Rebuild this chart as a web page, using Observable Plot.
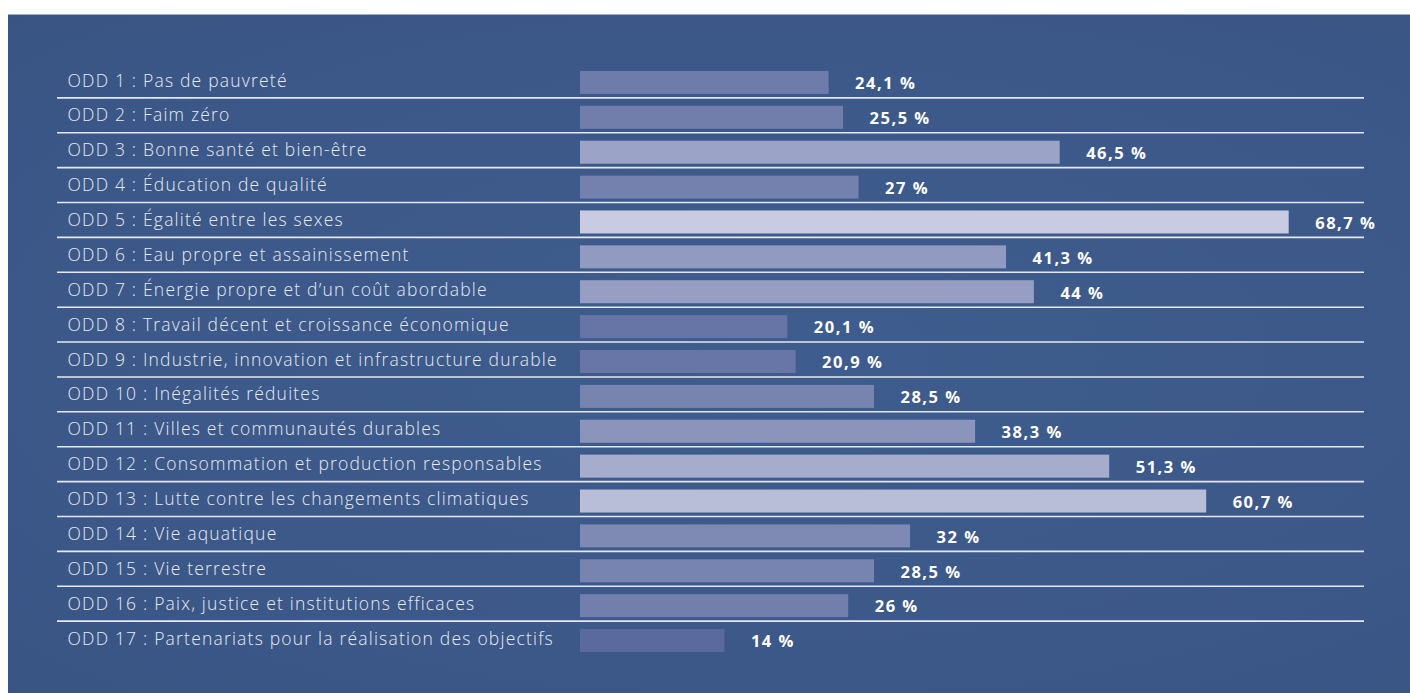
<!DOCTYPE html>
<html>
<head>
<meta charset="utf-8">
<script src="https://cdn.jsdelivr.net/npm/d3@7"></script>
<script src="https://cdn.jsdelivr.net/npm/@observablehq/plot@0.6"></script>
<style>
  html, body { margin: 0; padding: 0; background: #ffffff; }
  #wrap { position: relative; width: 1410px; height: 693px; overflow: hidden; }
  #panel { position: absolute; left: 8px; top: 14px; right: 0; bottom: 0;
    background: radial-gradient(ellipse at 55% 50%, #3e5c8d 0%, #3b5888 70%, #385483 100%);
    border-top: 1px solid #9fb0cc; }
  #chart { position: absolute; left: 0; top: 0; }
</style>
</head>
<body>
<div id="wrap"><div id="panel"></div><div id="chart"></div></div>
<script>
const categories = [
  "ODD 1 : Pas de pauvreté",
  "ODD 2 : Faim zéro",
  "ODD 3 : Bonne santé et bien-être",
  "ODD 4 : Éducation de qualité",
  "ODD 5 : Égalité entre les sexes",
  "ODD 6 : Eau propre et assainissement",
  "ODD 7 : Énergie propre et d’un coût abordable",
  "ODD 8 : Travail décent et croissance économique",
  "ODD 9 : Industrie, innovation et infrastructure durable",
  "ODD 10 : Inégalités réduites",
  "ODD 11 : Villes et communautés durables",
  "ODD 12 : Consommation et production responsables",
  "ODD 13 : Lutte contre les changements climatiques",
  "ODD 14 : Vie aquatique",
  "ODD 15 : Vie terrestre",
  "ODD 16 : Paix, justice et institutions efficaces",
  "ODD 17 : Partenariats pour la réalisation des objectifs"
];
const values = [24.1, 25.5, 46.5, 27, 68.7, 41.3, 44, 20.1, 20.9, 28.5, 38.3, 51.3, 60.7, 32, 28.5, 26, 14];

const data = categories.map((c, i) => ({category: c, value: values[i]}));
const fmt = v => String(v).replace(".", ",") + " %";

const W = 1410, H = 693;
const marginTop = 65, marginBottom = 35;
const step = (H - marginTop - marginBottom) / categories.length;

const chart = Plot.plot({
  width: W,
  height: H,
  marginLeft: 57,
  marginRight: 46,
  marginTop,
  marginBottom,
  style: {background: "transparent", overflow: "visible"},
  x: {domain: [0, 76], range: [580, 1364], axis: null},
  y: {domain: categories, paddingInner: 0.34, paddingOuter: 0.17, round: false},
  color: {type: "linear", domain: [14, 68.7], range: ["#5a6a9e", "#c8cbe2"]},
  marks: [
    Plot.ruleY(categories.slice(1), {stroke: "#e4e8f2", strokeWidth: 1.6, dy: -step / 2 - 2.5}),
    Plot.barX(data, {y: "category", x: "value", fill: "value"}),
    Plot.text(data, {
      y: "category", x: "value", text: d => fmt(d.value),
      textAnchor: "start", dx: 26, dy: 1, fill: "#ffffff",
      fontFamily: "Open Sans", fontWeight: 700, fontSize: 16.5
    }),
    Plot.axisY({
      tickSize: 0, tickPadding: 0, textAnchor: "start", dx: 10, dy: -2,
      fill: "#e8ebf3", fontFamily: "Open Sans", fontWeight: 300, fontSize: 17.5, label: null
    })
  ]
});
chart.querySelectorAll("[aria-label='text'] text").forEach(t => { t.style.letterSpacing = "1.5px"; });
chart.querySelectorAll("[aria-label='y-axis tick label'] text").forEach(t => { t.style.letterSpacing = "1.2px"; });
document.getElementById("chart").appendChild(chart);
</script>
</body>
</html>
